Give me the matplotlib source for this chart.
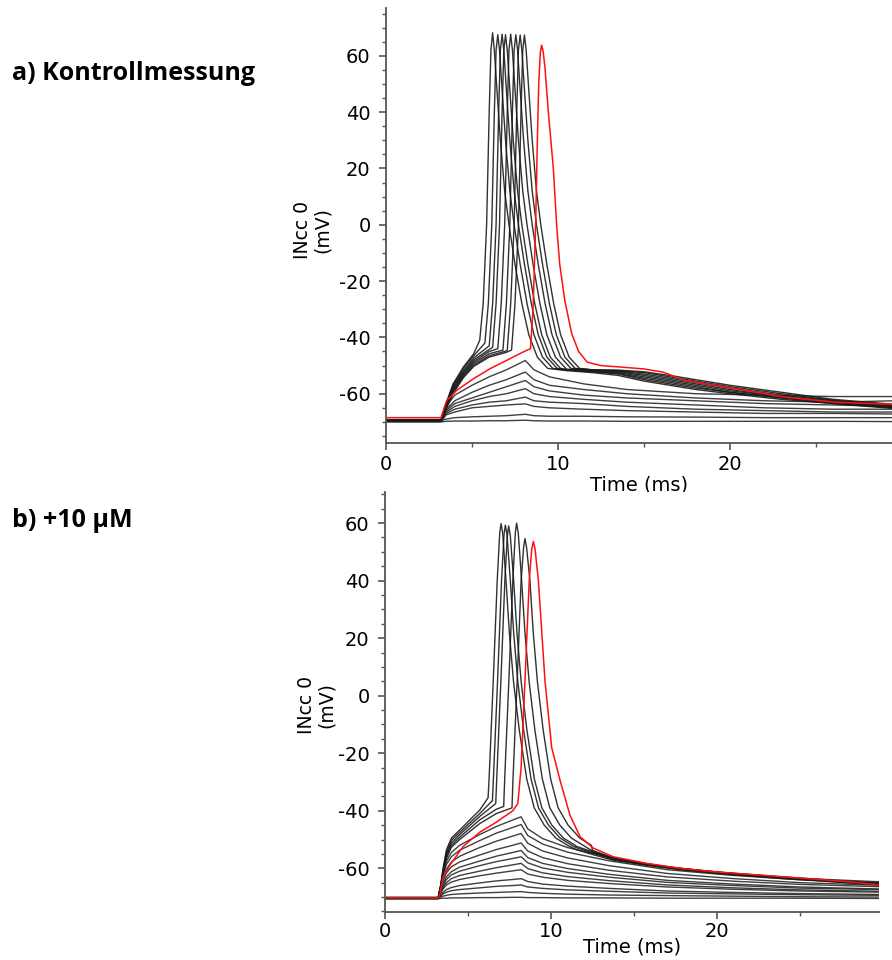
# coding=utf-8
import matplotlib.pyplot as plt
from matplotlib.ticker import MultipleLocator

plt.rcParams['font.family'] = ['DejaVu Sans']
plt.rcParams['axes.unicode_minus'] = False

'''a) Kontrollmessung'''
# unterschwellige Spuren, gemeinsames Zeitraster (ms) und Spannungen (mV)
t_sub_a = [0, 3.2, 3.5, 4, 5, 6, 7, 8.1, 8.6, 9.5, 11.5, 14, 18, 22, 26, 29.6]
sub_a = [
    [-69.3, -69.3, -64.5, -60.5, -57, -54, -51.5, -48.2, -51.5, -54, -56.5, -58.5, -60, -60.5, -61, -61],
    [-69.6, -69.6, -65.5, -62.5, -59.5, -57, -55, -52.3, -55, -57, -58.5, -60, -61.5, -62.5, -63, -62.5],
    [-69.4, -69.4, -66, -63.5, -61.5, -59.5, -57.5, -55.3, -57.5, -59, -60.5, -61.5, -62.5, -63.5, -64, -64.5],
    [-69.8, -69.8, -66.5, -64.5, -62.5, -61, -60, -58.2, -60, -61, -62, -63, -64, -65, -65.5, -65.5],
    [-69.5, -69.5, -67, -65.5, -64, -63, -62.5, -61.2, -62.5, -63, -63.5, -64.5, -65.5, -66, -66.5, -66.5],
    [-69.9, -69.9, -67.5, -66.5, -65, -64.5, -64, -63.6, -64.5, -65, -65.5, -66, -66.5, -67, -67, -67.2],
    [-69.6, -69.6, -69, -68.5, -68.2, -68, -67.8, -67.3, -67.8, -68, -68, -68.2, -68.3, -68.5, -68.5, -68.5],
    [-70, -70, -69.8, -69.7, -69.7, -69.6, -69.6, -69.4, -69.6, -69.7, -69.7, -69.8, -69.8, -69.8, -69.8, -69.9],
]
# Aktionspotentiale: Anstieg vor der Schwelle
t_ramp_a = [0, 3.2, 3.4, 3.9, 4.5, 5.1, 6.0, 7.0]
ramp_a = [
    [-69.3, -69.3, -65, -56.5, -50.5, -45.8, -40, -40],
    [-69.5, -69.5, -65.3, -57, -51, -46.5, -42, -42],
    [-69.2, -69.2, -65.6, -57.5, -51.8, -47.3, -43, -43],
    [-69.6, -69.6, -65.8, -58, -52.3, -48, -44.3, -44],
    [-69.4, -69.4, -66, -58.5, -52.8, -48.6, -45, -44],
    [-69.7, -69.7, -66.3, -59, -53.3, -49.2, -45.8, -44.5],
    [-69.5, -69.5, -66.5, -59.5, -53.8, -49.8, -46.5, -44.8],
    [-69.8, -69.8, -66.7, -60, -54.3, -50.3, -47, -45.3],
]
peak_t_a = [6.2, 6.5, 6.75, 6.95, 7.25, 7.55, 7.8, 8.05]
peak_v_a = [68.2, 67.5, 67.7, 67.5, 67.7, 67.5, 67.4, 67.4]
knee_v_a = [-41, -42, -43, -43.5, -44, -44.5, -44.5, -44.5]
shoulder_a = [62, 62, 62, 62, 62, 62, 62, 62]
# Spikeform relativ zum Maximum; Index 0 = Schwelle, 4/6 = Schulter, 5 = Maximum
spike_dt_a = [-0.75, -0.55, -0.35, -0.2, -0.1, 0, 0.1, 0.25, 0.45, 0.7, 0.95, 1.3, 1.7, 2.1, 2.6, 3.2]
spike_v_a = [None, -28, 0, 40, None, None, None, 48, 30, 12, 0, -14, -28, -39, -47, -51]
# Nachpotential
t_tail_a = [10.5, 12, 13.5, 15, 16.5, 18, 20, 23, 26, 29.6]
tail_a = [
    [-51.8, -52.5, -53.5, -55.5, -57, -58.5, -60, -62, -63.5, -65],
    [-51.6, -52.2, -53, -55, -56.5, -58, -59.5, -61.5, -63.5, -65.3],
    [-51.5, -52, -52.8, -54.5, -56, -57.5, -59.5, -61.5, -63, -64.6],
    [-51.4, -51.8, -52.5, -54, -55.5, -57, -59, -61, -63, -65],
    [-51.3, -51.7, -52.2, -53.5, -55, -56.5, -58.5, -61, -62.8, -64.3],
    [-51.2, -51.5, -52, -53, -54.5, -56, -58, -60.5, -62.5, -64.8],
    [-51.5, -51.6, -51.8, -52.5, -54, -55.5, -57.5, -60, -62.3, -64],
    [-51.6, -51.5, -51.6, -52.2, -53.5, -55, -57, -59.5, -62, -63.8],
]
red_t_a = [0, 3.2, 3.24, 3.53, 4.11, 5.08, 6.05, 7.0, 7.97, 8.4, 8.55, 8.7, 8.8, 8.88,
           8.97, 9.05, 9.14, 9.24, 9.44, 9.73, 9.92, 10.1, 10.4, 10.8, 11.2, 11.7, 12.5,
           13.6, 15, 16.1, 17.4, 20.3, 23.2, 26.1, 29.6]
red_v_a = [-68.5, -68.5, -67.7, -62.4, -58.8, -54.7, -51.1, -48.2, -45.2, -44, -30, 0, 30, 50,
           61, 63.8, 61.5, 56, 40, 20, 0, -14, -27, -38.7, -45, -48.8, -50,
           -50.5, -51.2, -52.3, -55.3, -58.2, -61.2, -63, -63.8]

'''b) +10 µM'''
t_sub_b = [0, 3.2, 3.35, 3.5, 3.7, 4.0, 4.5, 5.7, 6.7, 7.7, 8.2, 8.6, 9.5, 11, 13.5, 17, 21, 25, 29.8]
sub_b = [
    [-70.3, -70.3, -66.1, -61.5, -57.6, -54.5, -52, -48.3, -45.5, -43.2, -42.1, -46.3, -49.7, -52.8, -56.2, -59.6, -61.8, -63.5, -64.7],
    [-70.1, -70.1, -66.3, -62.3, -58.7, -56, -53.7, -50.4, -47.8, -45.8, -44.8, -48.6, -51.6, -54.4, -57.4, -60.5, -62.5, -64, -65],
    [-70.4, -70.4, -67, -63.5, -60.3, -57.8, -55.8, -52.8, -50.6, -48.8, -47.9, -51.3, -54, -56.4, -59.1, -61.8, -63.6, -65, -65.9],
    [-70.2, -70.2, -67.3, -64.3, -61.6, -59.5, -57.8, -55.4, -53.5, -52, -51.2, -54, -56.3, -58.4, -60.7, -63, -64.5, -65.6, -66.4],
    [-70.5, -70.5, -68, -65.4, -63, -61.2, -59.6, -57.5, -55.8, -54.5, -53.8, -56.3, -58.3, -60.1, -62.1, -64.2, -65.5, -66.5, -67.2],
    [-70.3, -70.3, -68.2, -66, -63.9, -62.3, -61, -59.1, -57.7, -56.6, -56, -58.1, -59.9, -61.4, -63.1, -64.9, -66, -66.9, -67.4],
    [-70.4, -70.4, -68.6, -66.7, -65, -63.6, -62.5, -61, -59.8, -58.8, -58.3, -60.1, -61.6, -62.9, -64.3, -65.8, -66.8, -67.5, -68],
    [-70.2, -70.2, -68.7, -67.2, -65.8, -64.8, -63.9, -62.6, -61.7, -60.9, -60.5, -62, -63.1, -64.2, -65.3, -66.5, -67.3, -67.9, -68.3],
    [-70.5, -70.5, -69.5, -68.4, -67.4, -66.7, -66, -65.1, -64.4, -63.9, -63.6, -64.6, -65.5, -66.2, -67, -67.9, -68.4, -68.8, -69.1],
    [-70.3, -70.3, -69.6, -68.9, -68.3, -67.8, -67.4, -66.8, -66.3, -66, -65.8, -66.5, -67, -67.5, -68, -68.6, -68.9, -69.2, -69.4],
    [-70.4, -70.4, -70, -69.7, -69.4, -69.1, -68.9, -68.6, -68.4, -68.2, -68.1, -68.4, -68.7, -69, -69.3, -69.5, -69.7, -69.9, -70],
    [-70.5, -70.5, -70.5, -70.4, -70.4, -70.3, -70.3, -70.2, -70.2, -70.1, -70.1, -70.2, -70.2, -70.3, -70.3, -70.4, -70.4, -70.4, -70.5],
]
t_ramp_b = [0, 3.2, 3.35, 3.5, 3.7, 4.0, 4.5, 5.7, 6.7, 7.7]
ramp_b = [
    [-70.5, -70.5, -66, -60, -53.6, -49.5, -46.7, -39.8, -35, -35],
    [-70.2, -70.2, -66.3, -60.5, -54.5, -50.3, -47.5, -41, -37, -36],
    [-70.6, -70.6, -66.5, -61, -55.3, -51.2, -48.3, -42, -38, -37],
    [-70.4, -70.4, -66.8, -61.5, -56, -52, -49.2, -43.2, -39.5, -37.5],
    [-70.3, -70.3, -67, -62, -56.6, -52.7, -50, -44.5, -41, -38],
]
peak_t_b = [6.99, 7.25, 7.45, 7.93, 8.43]
peak_v_b = [59.8, 59.3, 59, 60, 54.6]
knee_v_b = [-35.5, -36.5, -37.5, -38.5, -39]
shoulder_b = [56.5, 56, 55.5, 56.5, 51.5]
spike_dt_b = [-0.78, -0.72, -0.47, -0.23, -0.08, 0, 0.1, 0.3, 0.5, 0.75, 1.1, 1.55, 2.0, 2.6, 3.3, 4.0]
spike_v_b = [None, -29, 5, 40, None, None, None, 40, 22, 5, -12, -29, -39, -45, -49.5, -52]
t_tail_b = [11.5, 12.5, 13.75, 15.75, 17.75, 20, 24, 27.8, 29.76]
tail_b = [
    [-53.5, -55.2, -57.2, -59, -60.5, -61.8, -63.6, -65, -65.8],
    [-52.8, -54.6, -56.9, -58.8, -60.3, -61.6, -63.4, -65, -65.6],
    [-52.3, -54.3, -56.7, -58.6, -60.2, -61.5, -63.3, -64.8, -65.5],
    [-51.8, -54, -56.6, -58.6, -60, -61.4, -63.2, -64.7, -65.4],
    [-51.5, -53.8, -56.4, -58.4, -60, -61.3, -63, -64.5, -65.2],
]
red_t_b = [0, 3.2, 3.31, 3.5, 3.9, 4.7, 5.7, 6.7, 7.7, 8.0, 8.2, 8.43, 8.69, 8.84, 8.94,
           9.04, 9.24, 9.64, 10.04, 10.54, 11.14, 11.75, 12.55, 13.75, 15.76, 17.77,
           19.78, 23.8, 27.8, 29.76]
red_v_b = [-70.3, -70.3, -69, -63, -59, -52.5, -47.5, -44, -40, -37.5, -25, 5, 40, 51, 53.6,
           51, 40, 5, -18, -29.3, -41.5, -49, -53, -56, -58.3, -60,
           -61.2, -62.9, -64.6, -65.8]


def spike_trace(t_ramp, v_ramp, tp, vp, knee, shoulder, dt, shape, t_tail, v_tail):
    # Anstieg bis zur Schwelle, dann Spike um tp, dann Nachpotential
    t0 = tp + dt[0]
    ts = [t for t in t_ramp if t < t0]
    vs = [v for t, v in zip(t_ramp, v_ramp) if t < t0]
    form = list(shape)
    form[0], form[4], form[5], form[6] = knee, shoulder, vp, shoulder
    t_end = tp + dt[-1]
    ts += [tp + d for d in dt]
    vs += form
    ts += [t for t in t_tail if t > t_end]
    vs += [v for t, v in zip(t_tail, v_tail) if t > t_end]
    return ts, vs


def style_axes(ax, xmax, ylo, yhi, xpad, lpad):
    ax.set_xlim(0, xmax)
    ax.set_ylim(ylo, yhi)
    for s in ['top', 'right']:
        ax.spines[s].set_visible(False)
    for s in ['left', 'bottom']:
        ax.spines[s].set_color('#555555')
        ax.spines[s].set_linewidth(1.3)
    ax.xaxis.set_major_locator(MultipleLocator(10))
    ax.xaxis.set_minor_locator(MultipleLocator(5))
    ax.set_yticks(range(-60, 61, 20))
    ax.yaxis.set_minor_locator(MultipleLocator(5))
    ax.tick_params(which='major', direction='out', length=5, width=1.2,
                   color='#555555', labelsize=14, labelcolor='black')
    ax.tick_params(axis='y', which='major', pad=6)
    ax.tick_params(axis='x', which='major', pad=xpad)
    ax.tick_params(which='minor', direction='out', length=3, width=1.0, color='#555555')
    ax.set_xlabel('Time (ms)', fontsize=14, labelpad=lpad)


def draw_panel(ax, t_sub, sub, t_ramp, ramp, peak_t, peak_v, knee_v, shoulder,
               dt, shape, t_tail, tail, red_t, red_v):
    for v in sub:
        ax.plot(t_sub, v, color='#2a2a2a', lw=1.0, alpha=0.9)
    for i in range(len(peak_t)):
        ts, vs = spike_trace(t_ramp, ramp[i], peak_t[i], peak_v[i], knee_v[i],
                             shoulder[i], dt, shape, t_tail, tail[i])
        ax.plot(ts, vs, color='#1a1a1a', lw=1.0, alpha=0.9)
    ax.plot(red_t, red_v, color='#ff1010', lw=1.1)


fig = plt.figure(figsize=(8.92, 9.6), dpi=100)
ax1 = fig.add_axes([386 / 892, 1 - 443 / 960, 506 / 892, 435 / 960])
ax2 = fig.add_axes([385 / 892, 1 - 912 / 960, 494 / 892, 420 / 960])

draw_panel(ax1, t_sub_a, sub_a, t_ramp_a, ramp_a, peak_t_a, peak_v_a, knee_v_a,
           shoulder_a, spike_dt_a, spike_v_a, t_tail_a, tail_a, red_t_a, red_v_a)
draw_panel(ax2, t_sub_b, sub_b, t_ramp_b, ramp_b, peak_t_b, peak_v_b, knee_v_b,
           shoulder_b, spike_dt_b, spike_v_b, t_tail_b, tail_b, red_t_b, red_v_b)

style_axes(ax1, 29.42, -77.5, 77, 4, 1)
style_axes(ax2, 29.76, -75.2, 70.8, 2, -2)

# Achsenbeschriftung y (zweizeilig, gedreht)
fig.text(312.5 / 892, 1 - 230 / 960, 'INcc 0\n(mV)', rotation=90, ha='center',
         va='center', fontsize=13.5, multialignment='center', linespacing=1.0)
fig.text(316.5 / 892, 1 - 705 / 960, 'INcc 0\n(mV)', rotation=90, ha='center',
         va='center', fontsize=13.5, multialignment='center', linespacing=1.0)

# Teilbild-Titel
fig.text(12 / 892, 1 - 80 / 960, 'a) Kontrollmessung', ha='left', va='baseline',
         fontsize=18, fontweight='bold', family='Open Sans')
fig.text(12 / 892, 1 - 527 / 960, 'b) +10 µM', ha='left', va='baseline',
         fontsize=18, fontweight='bold', family='Open Sans')

fig.savefig('out.png', dpi=100)
